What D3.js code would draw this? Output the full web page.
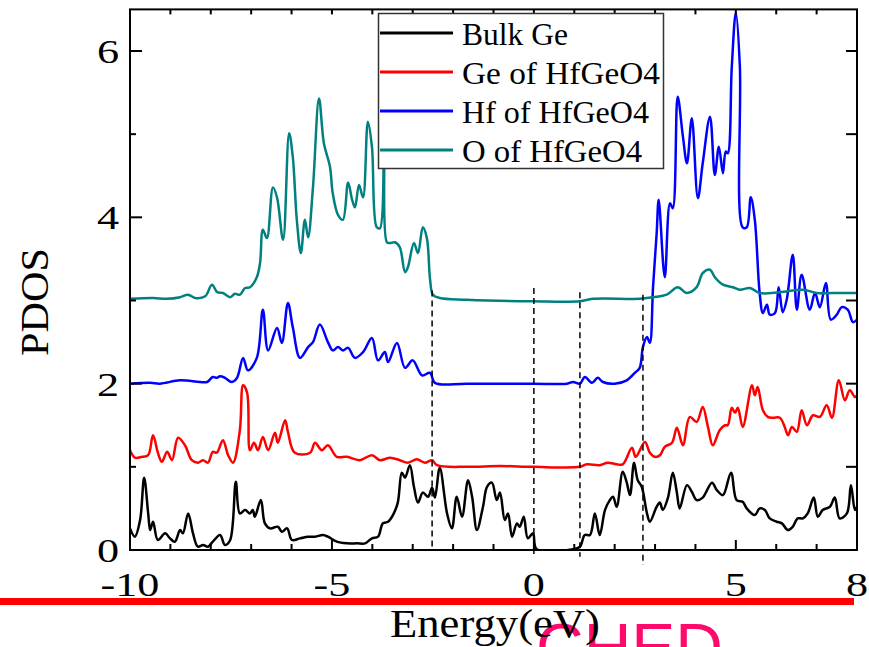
<!DOCTYPE html>
<html><head><meta charset="utf-8">
<script src="https://cdn.jsdelivr.net/npm/d3@7"></script>
<style>body{margin:0;background:#fff;} svg{display:block}</style>
</head><body>
<svg id="c" width="869" height="647"></svg>
<script>
const seriesNames = ["Bulk Ge", "Ge of HfGeO4", "Hf of HfGeO4", "O of HfGeO4"];
const seriesColors = ["#000000", "#ff0000", "#0000ff", "#008080"];
const xTickLabels = [-10, -5, 0, 5, 8];
const yTickLabels = [0, 2, 4, 6];
const gapEnergies = [-2.52, 0.0, 1.14, 2.70];
const gapTops = [3.12, 3.15, 3.10, 3.07];
const gapBottoms = [0.0, -0.06, -0.08, -0.18];

const bulkGe = [[-10,0.26],[-9.88,0.16],[-9.75,0.36],[-9.65,0.87],[-9.55,0.44],[-9.5,0.24],[-9.43,0.34],[-9.31,0.12],[-9.13,0.2],[-9.01,0.14],[-8.89,0.1],[-8.76,0.24],[-8.69,0.2],[-8.56,0.44],[-8.44,0.2],[-8.32,0.04],[-8.19,0.06],[-8.07,0.04],[-7.95,0.1],[-7.77,0.18],[-7.65,0.06],[-7.52,0.12],[-7.38,0.82],[-7.28,0.44],[-7.15,0.48],[-7.03,0.44],[-6.96,0.48],[-6.91,0.4],[-6.76,0.6],[-6.66,0.32],[-6.53,0.26],[-6.34,0.28],[-6.24,0.22],[-6.11,0.26],[-5.99,0.12],[-5.79,0.14],[-5.59,0.16],[-5.42,0.16],[-5.22,0.18],[-5.1,0.16],[-4.88,0.1],[-4.63,0.08],[-4.38,0.08],[-4.18,0.08],[-4.01,0.14],[-3.86,0.16],[-3.74,0.32],[-3.61,0.34],[-3.49,0.42],[-3.37,0.57],[-3.27,0.93],[-3.19,0.87],[-3.07,1.02],[-2.97,0.76],[-2.87,0.57],[-2.75,0.69],[-2.62,0.64],[-2.52,0.75],[-2.45,0.63],[-2.33,0.99],[-2.15,0.44],[-2.03,0.26],[-1.91,0.64],[-1.78,0.4],[-1.63,0.84],[-1.53,0.64],[-1.41,0.24],[-1.26,0.52],[-1.16,0.76],[-1.04,0.81],[-0.92,0.6],[-0.84,0.69],[-0.72,0.36],[-0.64,0.44],[-0.54,0.16],[-0.42,0.32],[-0.35,0.28],[-0.25,0.4],[-0.15,0.14],[-0.02,0.2],[0.07,0.01],[0.97,0.01],[1.14,0.04],[1.26,0.18],[1.39,0.18],[1.51,0.44],[1.63,0.18],[1.76,0.48],[1.88,0.6],[1.96,0.64],[2.05,0.52],[2.2,0.94],[2.3,0.81],[2.38,0.66],[2.48,1.05],[2.57,0.84],[2.67,0.76],[2.8,0.44],[2.87,0.34],[3.04,0.52],[3.12,0.57],[3.19,0.48],[3.32,0.63],[3.44,0.93],[3.54,0.69],[3.61,0.5],[3.79,0.78],[3.91,0.7],[4.03,0.6],[4.18,0.63],[4.41,0.81],[4.53,0.72],[4.68,0.66],[4.88,0.93],[5.02,0.6],[5.17,0.58],[5.27,0.5],[5.47,0.42],[5.59,0.5],[5.72,0.48],[5.84,0.38],[6.01,0.34],[6.14,0.32],[6.29,0.24],[6.41,0.28],[6.53,0.38],[6.66,0.38],[6.78,0.44],[6.93,0.63],[7.03,0.4],[7.15,0.48],[7.33,0.52],[7.45,0.63],[7.57,0.38],[7.75,0.44],[7.85,0.78],[7.95,0.48],[8,0.52]];

const geOfHfGeO4 = [[-10,1.2],[-9.88,1.11],[-9.7,1.12],[-9.55,1.14],[-9.43,1.38],[-9.31,1.17],[-9.21,1.06],[-9.08,1.18],[-8.96,1.08],[-8.81,1.35],[-8.64,1.26],[-8.47,1.08],[-8.32,1.05],[-8.19,1.08],[-8.07,1.05],[-7.95,1.18],[-7.85,1.17],[-7.7,1.32],[-7.57,1.14],[-7.45,1.05],[-7.28,1.44],[-7.2,1.98],[-7.1,1.89],[-7.03,1.2],[-6.93,1.29],[-6.83,1.2],[-6.71,1.36],[-6.58,1.2],[-6.41,1.41],[-6.34,1.29],[-6.16,1.56],[-6.09,1.42],[-5.92,1.17],[-5.54,1.17],[-5.42,1.29],[-5.25,1.2],[-5.1,1.26],[-4.88,1.12],[-4.63,1.12],[-4.31,1.08],[-4.01,1.14],[-3.81,1.08],[-3.56,1.11],[-3.32,1.08],[-3.12,1.05],[-2.9,1.09],[-2.7,1.05],[-2.52,1.08],[-2.4,1.02],[-1.66,1.0],[-0.84,1.01],[-0.02,1.0],[1.14,1.0],[1.31,1.03],[1.63,1.02],[1.83,1.05],[2.05,1.03],[2.2,1.03],[2.43,1.23],[2.52,1.12],[2.75,1.3],[2.87,1.17],[3.0,1.12],[3.12,1.14],[3.24,1.24],[3.42,1.29],[3.54,1.47],[3.69,1.26],[3.86,1.6],[4.03,1.54],[4.18,1.72],[4.31,1.48],[4.43,1.26],[4.6,1.44],[4.73,1.5],[4.8,1.5],[4.9,1.71],[4.98,1.65],[5.05,1.71],[5.17,1.48],[5.4,1.98],[5.47,1.86],[5.54,1.96],[5.67,1.68],[5.79,1.6],[5.92,1.59],[6.09,1.59],[6.21,1.48],[6.29,1.38],[6.39,1.48],[6.51,1.42],[6.63,1.68],[6.76,1.5],[6.91,1.62],[7.08,1.6],[7.25,1.74],[7.38,1.59],[7.55,2.04],[7.7,1.8],[7.82,1.92],[7.95,1.84],[8,1.86]];

const hfOfHfGeO4 = [[-10,2.0],[-9.5,2.01],[-9.26,2.0],[-8.76,2.04],[-8.27,2.02],[-8.09,2.02],[-7.95,2.08],[-7.85,2.07],[-7.77,2.09],[-7.65,2.07],[-7.48,2.02],[-7.35,2.07],[-7.2,2.31],[-7.08,2.16],[-6.86,2.31],[-6.71,2.89],[-6.58,2.4],[-6.36,2.67],[-6.24,2.49],[-6.09,2.97],[-5.97,2.68],[-5.79,2.31],[-5.59,2.44],[-5.47,2.5],[-5.3,2.71],[-5.1,2.5],[-4.98,2.4],[-4.85,2.44],[-4.73,2.4],[-4.6,2.43],[-4.43,2.31],[-4.23,2.38],[-4.01,2.55],[-3.86,2.28],[-3.69,2.38],[-3.61,2.26],[-3.39,2.49],[-3.19,2.19],[-3.0,2.28],[-2.77,2.1],[-2.57,2.13],[-2.45,2.01],[-1.66,2.0],[-0.02,2.0],[0.82,2.0],[0.97,2.02],[1.14,2.0],[1.26,2.08],[1.44,2.01],[1.58,2.07],[1.71,2.02],[2.0,2.0],[2.3,2.04],[2.5,2.13],[2.62,2.19],[2.7,2.44],[2.8,2.56],[2.87,2.49],[2.95,3.16],[3.04,3.81],[3.09,4.21],[3.24,3.28],[3.37,4.17],[3.44,4.11],[3.56,5.45],[3.69,4.97],[3.79,4.65],[3.91,5.19],[4.06,4.23],[4.18,4.65],[4.36,5.21],[4.48,4.51],[4.58,4.85],[4.68,4.53],[4.75,4.79],[4.8,4.77],[4.9,5.81],[5.0,6.46],[5.1,5.81],[5.17,3.88],[5.27,3.88],[5.37,4.24],[5.47,3.97],[5.59,3.09],[5.67,2.85],[5.77,2.95],[5.84,2.83],[5.97,2.85],[6.06,3.16],[6.16,2.86],[6.26,3.01],[6.41,3.55],[6.51,2.89],[6.63,3.31],[6.83,2.89],[6.96,3.09],[7.08,2.92],[7.23,3.21],[7.35,2.77],[7.5,2.83],[7.62,2.92],[7.77,2.89],[7.9,2.74],[8,2.77]];

const oOfHfGeO4 = [[-10,3.02],[-9.43,3.03],[-9.08,3.02],[-8.76,3.04],[-8.56,3.07],[-8.39,3.03],[-8.14,3.05],[-7.97,3.19],[-7.84,3.1],[-7.7,3.09],[-7.52,3.04],[-7.4,3.08],[-7.28,3.07],[-7.15,3.15],[-7.03,3.16],[-6.86,3.28],[-6.78,3.45],[-6.71,3.85],[-6.61,3.75],[-6.46,4.36],[-6.36,4.24],[-6.21,3.73],[-6.06,5.01],[-5.97,4.73],[-5.87,3.97],[-5.77,3.57],[-5.67,3.97],[-5.59,3.76],[-5.47,4.36],[-5.32,5.43],[-5.2,4.89],[-5.05,4.61],[-4.98,4.29],[-4.85,4.03],[-4.73,3.97],[-4.6,4.42],[-4.5,4.21],[-4.43,4.12],[-4.33,4.39],[-4.23,4.24],[-4.11,5.15],[-4.01,4.85],[-3.89,3.88],[-3.81,3.87],[-3.71,4.81],[-3.64,3.7],[-3.56,3.69],[-3.44,3.7],[-3.32,3.64],[-3.19,3.34],[-3.12,3.4],[-2.97,3.69],[-2.87,3.57],[-2.75,3.88],[-2.65,3.75],[-2.57,3.25],[-2.5,3.07],[-2.33,3.03],[-1.66,3.01],[-0.02,2.99],[1.14,2.99],[1.46,3.02],[2.62,3.02],[2.95,3.04],[3.29,3.07],[3.56,3.16],[3.79,3.09],[4.03,3.16],[4.18,3.33],[4.36,3.37],[4.48,3.28],[4.68,3.19],[4.93,3.16],[5.1,3.13],[5.35,3.15],[5.59,3.09],[6.09,3.1],[6.66,3.13],[7.0,3.09],[7.4,3.09],[8,3.09]];

const seriesData = [bulkGe, geOfHfGeO4, hfOfHfGeO4, oOfHfGeO4];

const svg = d3.select("#c");
const x = d3.scaleLinear().domain([-10, 8]).range([130, 857]);
const y = d3.scaleLinear().domain([0, 6.5]).range([550, 9.4]);
const serif = "'Liberation Serif','Times New Roman',serif";

function stretch(sel, k) {
  sel.each(function () {
    const w = this.getComputedTextLength();
    d3.select(this).attr("textLength", w * k).attr("lengthAdjust", "spacingAndGlyphs");
  });
}

svg.append("text").attr("x", 536).attr("y", 670)
  .attr("font-family", "'Liberation Sans',Arial,sans-serif").attr("font-size", 66)
  .attr("fill", "#ff0a6c").text("CHED");
svg.append("rect").attr("x", 0).attr("y", 598).attr("width", 854).attr("height", 7).attr("fill", "#ff0000");

svg.append("clipPath").attr("id", "clip").append("rect")
  .attr("x", x(-10)).attr("y", y(6.5)).attr("width", x(8) - x(-10)).attr("height", y(0) - y(6.5));

const line = d3.line().curve(d3.curveCatmullRom.alpha(0.5)).x(d => x(d[0])).y(d => y(d[1]));
const g = svg.append("g").attr("clip-path", "url(#clip)");
seriesData.forEach((s, i) => {
  g.append("path").datum(s).attr("d", line).attr("fill", "none")
    .attr("stroke", seriesColors[i]).attr("stroke-width", 2.5).attr("stroke-linejoin", "round");
});

svg.selectAll(".gap").data(gapEnergies).enter().append("line")
  .attr("x1", d => x(d)).attr("x2", d => x(d))
  .attr("y1", (d, i) => y(gapTops[i])).attr("y2", (d, i) => y(gapBottoms[i]))
  .attr("stroke", "#000").attr("stroke-width", 1.5).attr("stroke-dasharray", "6,4");

svg.append("rect").attr("x", x(-10)).attr("y", y(6.5)).attr("width", x(8) - x(-10)).attr("height", y(0) - y(6.5))
  .attr("fill", "none").attr("stroke", "#000").attr("stroke-width", 2);

const xt = d3.range(-10, 9, 1);
const yt = d3.range(0, 7, 1);
xt.forEach(v => {
  const major = v % 5 === 0;
  svg.append("line").attr("x1", x(v)).attr("x2", x(v)).attr("y1", y(0)).attr("y2", y(0) - (major ? 10 : 6)).attr("stroke", "#000").attr("stroke-width", 2);
  svg.append("line").attr("x1", x(v)).attr("x2", x(v)).attr("y1", y(6.5)).attr("y2", y(6.5) + 5).attr("stroke", "#000").attr("stroke-width", 2);
});
yt.forEach(v => {
  const major = v % 2 === 0;
  svg.append("line").attr("x1", x(-10)).attr("x2", x(-10) + (major ? 12 : 6)).attr("y1", y(v)).attr("y2", y(v)).attr("stroke", "#000").attr("stroke-width", 2);
  svg.append("line").attr("x1", x(8)).attr("x2", x(8) - 11).attr("y1", y(v)).attr("y2", y(v)).attr("stroke", "#000").attr("stroke-width", 2);
});

svg.selectAll(".xl").data(xTickLabels).enter().append("text")
  .attr("x", d => x(d)).attr("y", 596).attr("text-anchor", "middle")
  .attr("font-family", serif).attr("font-size", 34).text(d => d)
  .call(stretch, 1.3);
svg.selectAll(".yl").data(yTickLabels).enter().append("text")
  .attr("x", 119).attr("y", d => y(d) + 12).attr("text-anchor", "end")
  .attr("font-family", serif).attr("font-size", 34).text(d => d)
  .call(stretch, 1.3);

svg.append("text").attr("x", 390).attr("y", 637).attr("font-family", serif).attr("font-size", 40)
  .attr("textLength", 210).attr("lengthAdjust", "spacingAndGlyphs").text("Energy(eV)");
svg.append("text").attr("transform", "translate(48,302) rotate(-90)").attr("text-anchor", "middle")
  .attr("font-family", serif).attr("font-size", 40)
  .attr("textLength", 108).attr("lengthAdjust", "spacingAndGlyphs").text("PDOS");

const legendWidths = [106, 198, 187, 180];
const lg = svg.append("g");
lg.append("rect").attr("x", 378.5).attr("y", 13.5).attr("width", 285).attr("height", 155)
  .attr("fill", "#fff").attr("stroke", "#333").attr("stroke-width", 1.5);
seriesNames.forEach((n, i) => {
  const cy = 33 + i * 39;
  lg.append("line").attr("x1", 380).attr("x2", 453).attr("y1", cy).attr("y2", cy)
    .attr("stroke", seriesColors[i]).attr("stroke-width", 3);
  lg.append("text").attr("x", 462).attr("y", cy + 12).attr("font-family", serif).attr("font-size", 32)
    .attr("textLength", legendWidths[i]).attr("lengthAdjust", "spacingAndGlyphs").text(n);
});
</script>
</body></html>
